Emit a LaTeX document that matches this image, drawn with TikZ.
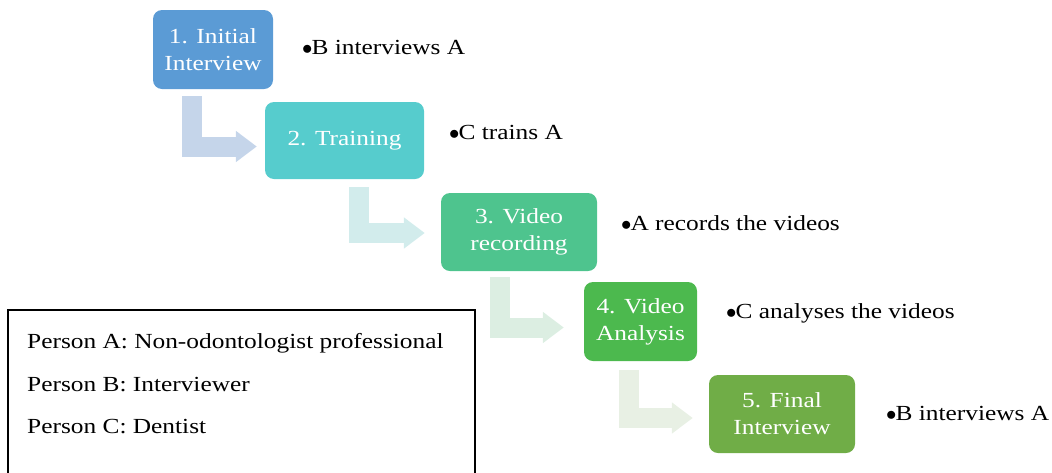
\documentclass[tikz,border=0pt]{standalone}
\usepackage{fontspec}
\setmainfont{Liberation Serif}[FakeStretch=1.18]
\usetikzlibrary{arrows.meta}

\begin{document}
\begin{tikzpicture}[x=1pt,y=-1pt,font=\fontsize{21.5}{27}\selectfont]
	%%% Colores
	\definecolor{pasouno}{RGB}{91,155,213}    % azul
	\definecolor{pasodos}{RGB}{86,204,205}    % turquesa
	\definecolor{pasotres}{RGB}{78,196,142}   % verde agua
	\definecolor{pasocuatro}{RGB}{76,185,78}  % verde
	\definecolor{pasocinco}{RGB}{112,173,71}  % verde oliva
	\definecolor{flechauno}{RGB}{197,213,234}
	\definecolor{flechados}{RGB}{210,236,236}
	\definecolor{flechatres}{RGB}{220,238,226}
	\definecolor{flechacuatro}{RGB}{232,240,228}
	\def\punto{$\bullet$\hspace{-1pt}}
	\tikzset{
		paso/.style={rounded corners=9pt, text=white, align=center, inner sep=0pt},
		nota/.style={anchor=west, inner sep=0pt},
		flecha/.style={line width=20pt, -{Triangle[length=21pt,width=30pt]}}
	}
	\useasboundingbox (0,0) rectangle (1052,472);

	%%% Pasos
	\node[paso, fill=pasouno, minimum width=120pt, minimum height=79pt] (inicial) at (213,49.5) {1. Initial\\Interview};
	\node[paso, fill=pasodos, minimum width=159pt, minimum height=77pt] (entrenamiento) at (344.5,140.5) {2. Training};
	\node[paso, fill=pasotres, minimum width=156pt, minimum height=78pt] (grabacion) at (519,232) {3. Video\\recording};
	\node[paso, fill=pasocuatro, minimum width=113pt, minimum height=79pt] (analisis) at (640.5,321.5) {4. Video\\Analysis};
	\node[paso, fill=pasocinco, minimum width=146pt, minimum height=78pt] (final) at (782,414) {5. Final\\Interview};

	%%% Flechas entre pasos
	\draw[flecha, flechauno] ([xshift=39pt,yshift=-7pt]inicial.south west) |- ([xshift=-8pt,yshift=-6pt]entrenamiento.west);
	\draw[flecha, flechados] ([xshift=94pt,yshift=-8pt]entrenamiento.south west) |- ([xshift=-16pt,yshift=-1pt]grabacion.west);
	\draw[flecha, flechatres] ([xshift=59pt,yshift=-6pt]grabacion.south west) |- ([xshift=-20pt,yshift=-6pt]analisis.west);
	\draw[flecha, flechacuatro] ([xshift=45pt,yshift=-9pt]analisis.south west) |- ([xshift=-16pt,yshift=-4pt]final.west);

	%%% Quién hace qué
	\node[nota] (notauno) at (302,47) {\punto B interviews A};
	\node[nota] (notados) at (449,132) {\punto C trains A};
	\node[nota] (notatres) at (621,223) {\punto A records the videos};
	\node[nota] (notacuatro) at (726,313) {\punto C analyses the videos};
	\node[nota] (notacinco) at (886,413) {\punto B interviews A};

	%%% Leyenda
	\draw[line width=1.5pt] (8,475) -- (8,310) -- (475,310) -- (475,475);
	\node[nota] (personaA) at (27,343) {Person A: Non-odontologist professional};
	\node[nota] (personaB) at (27,385) {Person B: Interviewer};
	\node[nota] (personaC) at (27,427) {Person C: Dentist};
\end{tikzpicture}
\end{document}
